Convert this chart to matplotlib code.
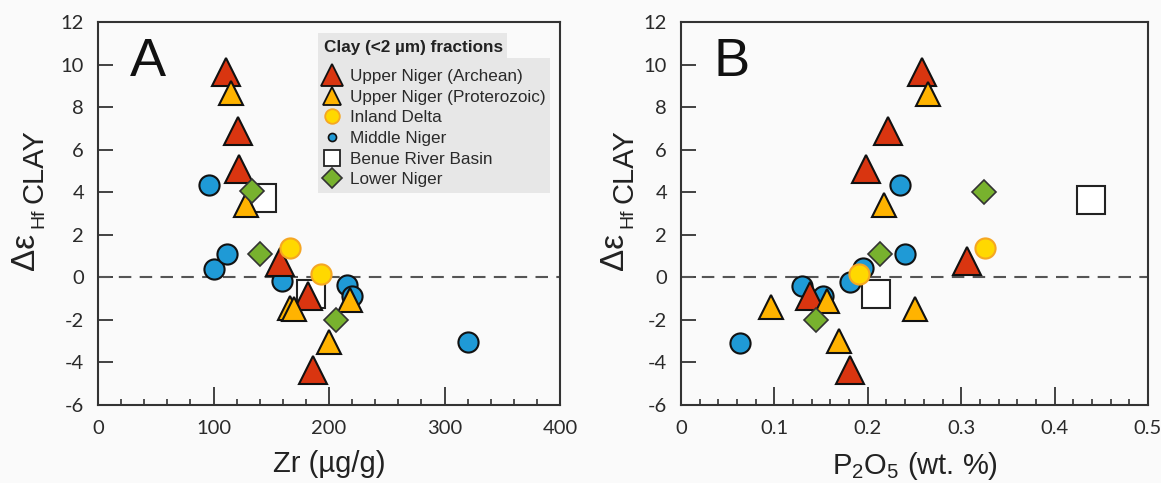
import matplotlib.pyplot as plt
from matplotlib.lines import Line2D
from matplotlib.patches import Rectangle
from matplotlib.ticker import MultipleLocator

plt.rcParams['axes.unicode_minus'] = False
plt.rcParams['mathtext.fontset'] = 'custom'
plt.rcParams['mathtext.rm'] = 'Liberation Sans'
plt.rcParams['mathtext.it'] = 'Liberation Sans:italic'

# panel A: Zr (ug/g) vs delta eps Hf
arch_zr = [111, 121, 122, 158, 182, 186]
arch_a = [9.66, 6.9, 5.1, 0.7, -0.9, -4.35]
prot_zr = [115, 128, 166, 170, 218, 200]
prot_a = [8.64, 3.4, -1.42, -1.5, -1.08, -3.03]
inland_zr = [166, 193]
inland_a = [1.38, 0.17]
middle_zr = [96, 100, 112, 159, 216, 219.5, 320]
middle_a = [4.32, 0.39, 1.1, -0.19, -0.37, -0.89, -3.05]
benue_zr = [142, 184]
benue_a = [3.71, -0.77]
lower_zr = [133, 140, 206]
lower_a = [4.08, 1.1, -2.0]

# panel B: P2O5 (wt. %)
arch_p = [0.2575, 0.222, 0.198, 0.3065, 0.138, 0.1806]
arch_b = [9.65, 6.9, 5.08, 0.75, -0.9, -4.34]
prot_p = [0.264, 0.217, 0.0962, 0.156, 0.25, 0.1695]
prot_b = [8.6, 3.39, -1.41, -1.1, -1.47, -3.0]
inland_p = [0.326, 0.1907]
inland_b = [1.37, 0.14]
middle_p = [0.234, 0.2403, 0.195, 0.181, 0.13, 0.152, 0.0633]
middle_b = [4.34, 1.08, 0.44, -0.22, -0.42, -0.88, -3.07]
benue_p = [0.439, 0.209]
benue_b = [3.65, -0.78]
lower_p = [0.3244, 0.2135, 0.1445]
lower_b = [4.03, 1.09, -2.02]

labels = ['Upper Niger (Archean)', 'Upper Niger (Proterozoic)', 'Inland Delta',
          'Middle Niger', 'Benue River Basin', 'Lower Niger']

red = '#d93510'
orange = '#ffb300'
yellow = '#ffd800'
blue = '#1f9ad6'
green = '#78b22e'
bg = '#fafafa'

W, H = 1161, 483
fig = plt.figure(figsize=(W/100, H/100), dpi=100, facecolor=bg)
axA = fig.add_axes([98/W, 78/H, 462/W, 383/H])
axB = fig.add_axes([681/W, 78/H, 467/W, 383/H])


def px(x, y):
    return x / W, 1 - y / H


def draw(ax, xs, ys):
    ax.plot(xs[4], ys[4], 's', ms=19.5, mfc='white', mec='#222', mew=1.5, zorder=3)
    ax.plot(xs[3], ys[3], 'o', ms=14.5, mfc=blue, mec='#111', mew=1.5, zorder=4)
    ax.plot(xs[0], ys[0], '^', ms=20, mfc=red, mec='#111', mew=1.5, zorder=5)
    ax.plot(xs[1], ys[1], '^', ms=17, mfc=orange, mec='#111', mew=1.5, zorder=6)
    ax.plot(xs[5], ys[5], 'D', ms=12.7, mfc=green, mec='#333', mew=1.2, zorder=6)
    ax.plot(xs[2], ys[2], 'o', ms=14.5, mfc=yellow, mec='#f5a623', mew=1.5, zorder=7)
    ax.axhline(0, color='#555', lw=1.5, dashes=(6, 4), zorder=2)
    ax.set_ylim(-6, 12)
    ax.yaxis.set_major_locator(MultipleLocator(2))
    ax.set_facecolor(bg)
    for s in ax.spines.values():
        s.set_color('#333')
        s.set_linewidth(1.5)
    ax.tick_params(axis='x', which='major', direction='in', length=13, width=1.3,
                   color='#333', labelsize=14.5, labelcolor='#2a2a2a', pad=11)
    ax.tick_params(axis='x', which='minor', direction='in', length=4, width=1.2, color='#333')
    ax.tick_params(axis='y', which='major', direction='in', length=11, width=1.3,
                   color='#333', labelsize=14.5, labelcolor='#2a2a2a', pad=10)


draw(axA, [arch_zr, prot_zr, inland_zr, middle_zr, benue_zr, lower_zr],
     [arch_a, prot_a, inland_a, middle_a, benue_a, lower_a])
axA.set_xlim(0, 400)
axA.xaxis.set_major_locator(MultipleLocator(100))
axA.xaxis.set_minor_locator(MultipleLocator(20))
axA.set_xlabel('Zr (µg/g)', fontsize=21, family='Liberation Sans', color='#222', labelpad=9)

draw(axB, [arch_p, prot_p, inland_p, middle_p, benue_p, lower_p],
     [arch_b, prot_b, inland_b, middle_b, benue_b, lower_b])
axB.set_xlim(0, 0.5)
axB.xaxis.set_minor_locator(MultipleLocator(0.02))
axB.set_xticks([0, 0.1, 0.2, 0.3, 0.4, 0.5], ['0', '0.1', '0.2', '0.3', '0.4', '0.5'])
axB.set_xlabel('P$_2$O$_5$ (wt. %)', fontsize=21, family='Liberation Sans', color='#222',
               labelpad=9)

for ax in (axA, axB):
    for lab in ax.get_xticklabels() + ax.get_yticklabels():
        lab.set_fontfamily('Lato')

axA.text(0.07, 0.96, 'A', transform=axA.transAxes, fontsize=39,
         family='Liberation Sans', va='top', ha='left', color='#111')
axB.text(0.07, 0.96, 'B', transform=axB.transAxes, fontsize=39,
         family='Liberation Sans', va='top', ha='left', color='#111')

# y labels: big delta-epsilon, small Hf, then CLAY
for dx in (0, 589):
    fig.text(*px(34 + dx, 251), 'Δε', rotation=90, rotation_mode='anchor',
             family='Liberation Sans', fontsize=24, ha='center', va='baseline', color='#222')
    fig.text(*px(43 + dx, 218), 'Hf', rotation=90, rotation_mode='anchor',
             family='Liberation Sans', fontsize=14, ha='center', va='baseline', color='#222')
    fig.text(*px(43 + dx, 166), 'CLAY', rotation=90, rotation_mode='anchor',
             family='Liberation Sans', fontsize=21, ha='center', va='baseline', color='#222')

# legend background boxes
axA.add_patch(Rectangle(px(318, 58.3), 189/W, 25.3/H, transform=fig.transFigure,
                        facecolor='#e7e7e7', edgecolor='none', zorder=8, clip_on=False))
axA.add_patch(Rectangle(px(318, 193), 232/W, 134.7/H, transform=fig.transFigure,
                        facecolor='#e7e7e7', edgecolor='none', zorder=8, clip_on=False))
axA.text(*px(324, 47.7), 'Clay (<2 µm) fractions', transform=fig.transFigure,
         family='Liberation Sans', fontsize=12.3, weight='bold', color='#222',
         ha='left', va='center', zorder=11)

handles = [
    Line2D([], [], ls='', marker='^', ms=15.8, mfc=red, mec='#111', mew=1.3),
    Line2D([], [], ls='', marker='^', ms=13, mfc=orange, mec='#111', mew=1.3),
    Line2D([], [], ls='', marker='o', ms=10.5, mfc=yellow, mec='#f5a623', mew=1.3),
    Line2D([], [], ls='', marker='o', ms=5.8, mfc=blue, mec='#111', mew=1.2),
    Line2D([], [], ls='', marker='s', ms=11, mfc='white', mec='#222', mew=1.3),
    Line2D([], [], ls='', marker='D', ms=10, mfc=green, mec='#333', mew=1.2),
]
leg = axA.legend(handles, labels, loc='upper left', bbox_to_anchor=px(321.7, 69),
                 bbox_transform=fig.transFigure,
                 prop={'family': 'Liberation Sans', 'size': 12.3},
                 frameon=False, borderpad=0, labelspacing=0.33, handletextpad=0.46,
                 handlelength=1.2, borderaxespad=0)
leg.set_zorder(10)
for t in leg.get_texts():
    t.set_color('#2a2a2a')

fig.savefig('out.png', dpi=100, facecolor=bg)
